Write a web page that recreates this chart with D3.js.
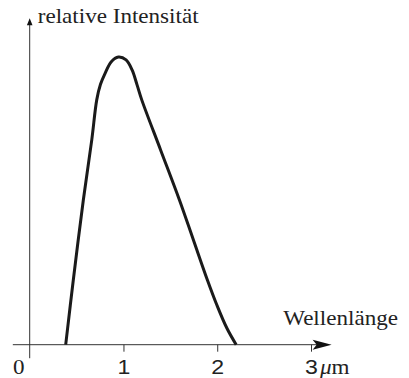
<!DOCTYPE html>
<html lang="de">
<head>
<meta charset="UTF-8">
<title>relative Intensität</title>
<script src="https://cdn.jsdelivr.net/npm/d3@7/dist/d3.min.js"></script>
<style>
  body { margin: 0; background: #fff; }
  svg { display: block; font-family: "Liberation Serif", "DejaVu Serif", serif; }
  .lbl { font-size: 21px; fill: #222; }
</style>
</head>
<body>
<div id="chart"></div>
<script>
// wavelength in µm, relative intensity (peak = 1)
var wavelength = [0.384, 0.465, 0.572, 0.662, 0.715, 0.755, 0.804, 0.868, 0.946, 1.028, 1.092, 1.145, 1.195, 1.396, 1.597, 1.746, 1.895, 1.996, 2.102, 2.202];
var intensity  = [0,     0.225, 0.503, 0.712, 0.851, 0.905, 0.943, 0.983, 1.0,   0.990, 0.955, 0.903, 0.851, 0.677, 0.503, 0.364, 0.225, 0.138, 0.058, 0];
var xTicks = [1, 2, 3];
var xTickLabels = ["1", "2", "3"];
var xUnit = "m";
var yLabel = "relative Intensität";
var xLabel = "Wellenlänge";

var width = 409, height = 378;
var stretch = 1.1; // type in the original is set a little wide

var x = d3.scaleLinear().domain([0, 3]).range([29.7, 311]);
var y = d3.scaleLinear().domain([0, 1]).range([344.7, 57]);

var svg = d3.select("#chart").append("svg")
    .attr("width", width)
    .attr("height", height);

var axisColor = "#333";
var labelOffset = 29; // baseline of tick labels below the axis

function label(px, py, anchor) {
  return svg.append("g")
      .attr("transform", "translate(" + px + "," + py + ") scale(" + stretch + ",1)")
    .append("text")
      .attr("class", "lbl")
      .attr("text-anchor", anchor || "start");
}

// x axis line + arrow
var xEnd = x(3.22);
svg.append("line")
    .attr("x1", x(-0.18)).attr("x2", xEnd - 6)
    .attr("y1", y(0)).attr("y2", y(0))
    .attr("stroke", axisColor).attr("stroke-width", 1);
svg.append("path")
    .attr("d", "M" + xEnd + "," + y(0) +
      "L" + (xEnd - 19) + "," + (y(0) - 5) +
      "L" + (xEnd - 15) + "," + y(0) +
      "L" + (xEnd - 19) + "," + (y(0) + 5) + "Z")
    .attr("fill", "#111");

// y axis line + arrow
var yTop = y(1.135);
svg.append("line")
    .attr("x1", x(0)).attr("x2", x(0))
    .attr("y1", y(-0.047)).attr("y2", yTop + 4)
    .attr("stroke", axisColor).attr("stroke-width", 1);
svg.append("path")
    .attr("d", "M" + x(0) + "," + yTop +
      "L" + (x(0) - 2.8) + "," + (yTop + 7) +
      "L" + (x(0) + 2.8) + "," + (yTop + 7) + "Z")
    .attr("fill", "#111");

// ticks via d3 axis
var xAxis = d3.axisBottom(x)
    .tickValues(xTicks)
    .tickSize(7)
    .tickPadding(10)
    .tickFormat(function(d, i) { return xTickLabels[i]; });

var gx = svg.append("g")
    .attr("transform", "translate(0," + y(0) + ")")
    .call(xAxis);
gx.select(".domain").remove();
gx.selectAll(".tick line").attr("stroke", axisColor);
gx.selectAll(".tick text")
    .attr("class", "lbl")
    .attr("font-family", null).attr("font-size", null)
    .attr("dy", null)
    .attr("y", labelOffset)
    .attr("transform", "scale(" + stretch + ",1)");

// origin label
label(x(0) - 11, y(0) + labelOffset, "middle").text("0");

// unit after the 3
var unit = label(x(3) + 9, y(0) + labelOffset);
unit.append("tspan").style("font-style", "italic").text("\u03bc");
unit.append("tspan").text(xUnit);

// axis titles
label(x(0) + 8, 23.3).text(yLabel);
label(398, 325, "end").text(xLabel);

// the curve
var pts = wavelength.map(function(d, i) { return [d, intensity[i]]; });
var line = d3.line()
    .x(function(d) { return x(d[0]); })
    .y(function(d) { return y(d[1]); })
    .curve(d3.curveCatmullRom.alpha(0.5));

svg.append("path")
    .datum(pts)
    .attr("d", line)
    .attr("fill", "none")
    .attr("stroke", "#1a1a1a")
    .attr("stroke-width", 3)
    .attr("stroke-linejoin", "round");
</script>
</body>
</html>
